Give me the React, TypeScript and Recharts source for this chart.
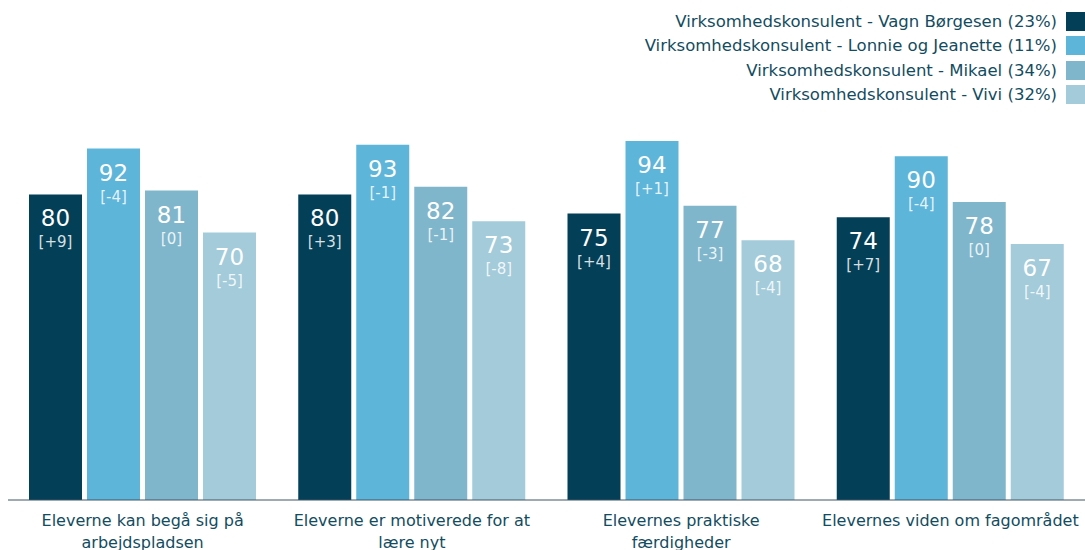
import { BarChart, Bar, XAxis, YAxis, LabelList } from 'recharts'

const categories = [
  'Eleverne kan begå sig på\narbejdspladsen',
  'Eleverne er motiverede for at\nlære nyt',
  'Elevernes praktiske\nfærdigheder',
  'Elevernes viden om fagområdet',
]

const seriesNames = [
  'Virksomhedskonsulent - Vagn Børgesen (23%)',
  'Virksomhedskonsulent - Lonnie og Jeanette (11%)',
  'Virksomhedskonsulent - Mikael (34%)',
  'Virksomhedskonsulent - Vivi (32%)',
]

const vagn = [80, 80, 75, 74]
const lonnie = [92, 93, 94, 90]
const mikael = [81, 82, 77, 78]
const vivi = [70, 73, 68, 67]

const vagnChange = ['+9', '+3', '+4', '+7']
const lonnieChange = ['-4', '-1', '+1', '-4']
const mikaelChange = ['0', '-1', '-3', '0']
const viviChange = ['-5', '-8', '-4', '-4']

const colors = ['#033f57', '#5db5da', '#7fb6cb', '#a3cbda']
const textColor = '#124c60'
const font = '"DejaVu Sans", sans-serif'

const keys = ['s0', 's1', 's2', 's3']
const changes = [vagnChange, lonnieChange, mikaelChange, viviChange]

const data = categories.map((c, i) => ({
  name: c,
  s0: vagn[i],
  s1: lonnie[i],
  s2: mikael[i],
  s3: vivi[i],
}))

function makeLabel(si: number) {
  return (props: any) => {
    const { x, y, width, index, value } = props
    const cx = x + width / 2
    return (
      <g>
        <text x={cx} y={y + 32} textAnchor="middle" fill="#ffffff" fontSize={23} fontFamily={font}>
          {value}
        </text>
        <text x={cx} y={y + 53} textAnchor="middle" fill="#ffffff" fillOpacity={0.85} fontSize={15} fontFamily={font}>
          [{changes[si][index]}]
        </text>
      </g>
    )
  }
}

function CategoryTick(props: any) {
  const { x, y, payload } = props
  const lines = String(payload.value).split('\n')
  return (
    <g>
      {lines.map((l, i) => (
        <text key={i} x={x} y={y + 18 + i * 22} textAnchor="middle" fill={textColor} fontSize={16} fontFamily={font}>
          {l}
        </text>
      ))}
    </g>
  )
}

export default function App() {
  return (
    <div style={{ position: 'absolute', left: 0, top: 0, width: 1085, height: 550, background: '#fff' }}>
      <div style={{ position: 'absolute', right: 0, top: 9, fontFamily: font, fontSize: 16.5, color: textColor }}>
        {seriesNames.map((n, i) => (
          <div key={i} style={{ display: 'flex', justifyContent: 'flex-end', alignItems: 'center', height: 24.5 }}>
            <span style={{ marginRight: 9 }}>{n}</span>
            <span style={{ display: 'inline-block', width: 19, height: 19, background: colors[i] }} />
          </div>
        ))}
      </div>
      <BarChart
        width={1085}
        height={550}
        data={data}
        margin={{ top: 118, right: 0, left: 8, bottom: 0 }}
        barSize={53}
        barGap={5}
      >
        <XAxis
          dataKey="name"
          tick={<CategoryTick />}
          tickLine={false}
          axisLine={{ stroke: '#3f5566', strokeWidth: 1 }}
          interval={0}
          height={50}
        />
        <YAxis hide domain={[0, 100]} />
        {keys.map((k, i) => (
          <Bar key={k} dataKey={k} fill={colors[i]} isAnimationActive={false}>
            <LabelList dataKey={k} content={makeLabel(i)} />
          </Bar>
        ))}
      </BarChart>
    </div>
  )
}
